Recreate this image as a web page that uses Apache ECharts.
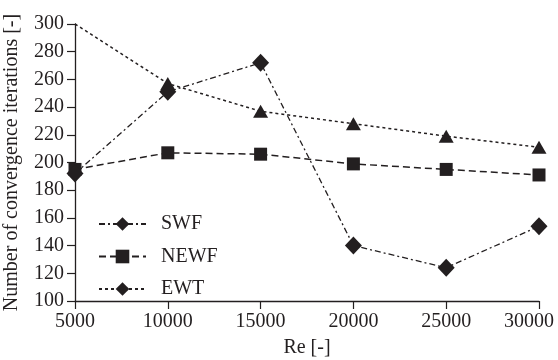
<!DOCTYPE html>
<html>
<head>
<meta charset="utf-8">
<script src="https://cdn.jsdelivr.net/npm/echarts@6/dist/echarts.min.js"></script>
<style>
html,body{margin:0;padding:0;background:#fff;}
#chart{width:558px;height:360px;}
</style>
</head>
<body>
<div id="chart"></div>
<script>
// Data
var reValues = [5000, 10000, 15000, 20000, 25000, 30000];
var swf  = [192, 251, 272, 140, 124, 154];
var newf = [195, 207, 206, 199, 195, 191];
var ewt  = [300, 257, 237, 228, 219, 211];
var xTicks = { min: 5000, max: 30000, step: 5000 };
var yTicks = { min: 100, max: 300, step: 20 };

var FONT = 'Liberation Serif';
var INK = '#231f20';

function pairs(vals) {
  return reValues.map(function (x, i) { return [x, vals[i]]; });
}
var ewtData = reValues.map(function (x, i) {
  return { value: [x, ewt[i]], symbol: i === 0 ? 'none' : 'triangle', symbolSize: [15, 13] };
});

var chart = echarts.init(document.getElementById('chart'), null, { renderer: 'canvas' });
chart.setOption({
  animation: false,
  backgroundColor: '#fff',
  grid: { left: 75, right: 19, top: 24, bottom: 59, containLabel: false, outerBoundsMode: 'none' },
  legend: {
    orient: 'vertical',
    left: 93,
    top: 209,
    itemWidth: 47,
    itemHeight: 17,
    itemGap: 12.5,
    textStyle: { fontFamily: FONT, fontSize: 20, color: INK, padding: [0, 0, 0, 10] },
    data: ['SWF', 'NEWF', 'EWT']
  },
  xAxis: {
    type: 'value',
    min: xTicks.min, max: xTicks.max, interval: xTicks.step,
    name: 'Re [-]',
    nameLocation: 'middle',
    nameGap: 37,
    nameTextStyle: { fontFamily: FONT, fontSize: 20, color: INK },
    axisLine: { lineStyle: { color: INK, width: 1.3 } },
    axisTick: { show: true, length: 8, lineStyle: { color: INK, width: 1.2 } },
    axisLabel: {
      fontFamily: FONT, fontSize: 20, color: INK, margin: 11,
      formatter: function (v) {
        return v === xTicks.max ? '{last|' + v + '}' : String(v);
      },
      rich: { last: { fontFamily: FONT, fontSize: 20, color: INK, padding: [0, 20, 0, 0] } }
    },
    splitLine: { show: false }
  },
  yAxis: {
    type: 'value',
    min: yTicks.min, max: yTicks.max, interval: yTicks.step,
    name: 'Number of convergence iterations [-]',
    nameLocation: 'middle',
    nameGap: 53,
    nameTextStyle: { fontFamily: FONT, fontSize: 20, color: INK },
    axisLine: { show: true, lineStyle: { color: INK, width: 1.3 } },
    axisTick: { show: true, length: 8, lineStyle: { color: INK, width: 1.2 } },
    axisLabel: { fontFamily: FONT, fontSize: 20, color: INK, margin: 11 },
    splitLine: { show: false }
  },
  series: [
    {
      name: 'SWF', type: 'line', data: pairs(swf),
      symbol: 'diamond', symbolSize: [17, 18],
      itemStyle: { color: INK },
      lineStyle: { color: INK, width: 1.3, type: [6, 3, 2, 3] },
      z: 3
    },
    {
      name: 'NEWF', type: 'line', data: pairs(newf),
      symbol: 'rect', symbolSize: 13,
      itemStyle: { color: INK },
      lineStyle: { color: INK, width: 1.5, type: [7, 4] },
      z: 2
    },
    {
      name: 'EWT', type: 'line', data: ewtData,
      symbol: 'diamond', symbolSize: [15, 13],
      itemStyle: { color: INK },
      lineStyle: { color: INK, width: 1.5, type: [3, 3] },
      z: 2
    }
  ]
});
</script>
</body>
</html>
